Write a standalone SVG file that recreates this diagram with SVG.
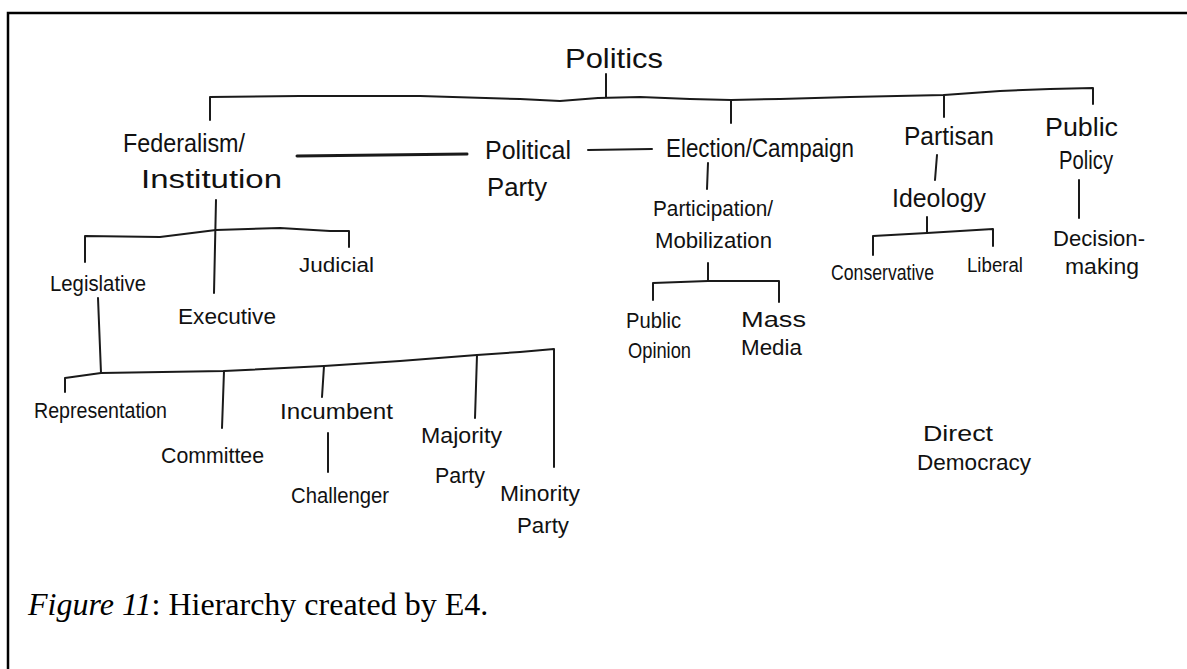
<svg xmlns="http://www.w3.org/2000/svg" width="1187" height="669" viewBox="0 0 1187 669">
  <style>
    .hand { font-family: "Liberation Sans", "DejaVu Sans", sans-serif; fill: #111; }
    .lg { font-size: 28px; }
    .md { font-size: 25px; }
    .sm { font-size: 22px; }
    .xs { font-size: 20px; }
    .wire { fill: none; stroke: #1a1a1a; stroke-width: 2; stroke-linecap: round; stroke-linejoin: round; }
    .frame { fill: none; stroke: #000; stroke-width: 2.5; }
    .caption { font-family: "Liberation Serif", "Times New Roman", serif; font-size: 32px; fill: #000; }
  </style>
  <rect width="1187" height="669" fill="#fff"/>

  <!-- page frame: top rule and left rule -->
  <path class="frame" d="M8,669 L8,13 L1187,13"/>

  <!-- connectors -->
  <g id="connectors">
    <!-- root bar -->
    <path class="wire" d="M606,74 L606,97"/>
    <path class="wire" d="M210,120 L210,97 L300,96 L420,96 L520,99 L560,101 L598,98 L640,97 L690,99 L731,100 L780,99 L850,97 L944,95 L1000,91 L1050,89 L1093,88 L1093,104"/>
    <path class="wire" d="M731,100 L731,123"/>
    <path class="wire" d="M944,95 L944,117"/>
    <!-- cross links -->
    <path class="wire" style="stroke-width:3" d="M297,156 L467,154"/>
    <path class="wire" d="M588,150 L652,149"/>
    <!-- institutions -->
    <path class="wire" d="M216,200 L214,293"/>
    <path class="wire" d="M85,262 L85,236 L160,237 L216,230 L280,228 L330,231 L349,231 L349,247"/>
    <!-- legislative -->
    <path class="wire" d="M98,298 L101,373"/>
    <path class="wire" d="M65,392 L65,378 L101,373 L224,371 L324,366 L400,361 L477,355 L520,352 L554,349 L554,467"/>
    <path class="wire" d="M224,371 L222,428"/>
    <path class="wire" d="M324,366 L322,397"/>
    <path class="wire" d="M477,355 L475,418"/>
    <path class="wire" d="M328,433 L328,472"/>
    <!-- election -->
    <path class="wire" d="M708,163 L707,189"/>
    <path class="wire" d="M708,263 L708,281"/>
    <path class="wire" d="M653,300 L653,283 L708,281 L779,281 L779,302"/>
    <!-- partisan -->
    <path class="wire" d="M937,155 L935,180"/>
    <path class="wire" d="M927,217 L927,233"/>
    <path class="wire" d="M873,255 L873,236 L927,233 L993,229 L993,246"/>
    <!-- public policy -->
    <path class="wire" d="M1079,180 L1079,218"/>
  </g>

  <!-- nodes -->
  <g id="politics"><text class="hand lg" x="565" y="68" textLength="98" lengthAdjust="spacingAndGlyphs">Politics</text></g>

  <g id="federalism">
    <text class="hand md" x="123" y="152" textLength="122" lengthAdjust="spacingAndGlyphs">Federalism/</text>
    <text class="hand md" x="141" y="188" textLength="141" lengthAdjust="spacingAndGlyphs">Institution</text>
  </g>
  <g id="political-party">
    <text class="hand md" x="485" y="159" textLength="86" lengthAdjust="spacingAndGlyphs">Political</text>
    <text class="hand md" x="487" y="196" textLength="60" lengthAdjust="spacingAndGlyphs">Party</text>
  </g>
  <g id="election"><text class="hand md" x="666" y="157" textLength="188" lengthAdjust="spacingAndGlyphs">Election/Campaign</text></g>
  <g id="participation">
    <text class="hand sm" x="653" y="216" textLength="120" lengthAdjust="spacingAndGlyphs">Participation/</text>
    <text class="hand sm" x="655" y="248" textLength="117" lengthAdjust="spacingAndGlyphs">Mobilization</text>
  </g>
  <g id="public-opinion">
    <text class="hand sm" x="626" y="328" textLength="55" lengthAdjust="spacingAndGlyphs">Public</text>
    <text class="hand sm" x="628" y="358" textLength="63" lengthAdjust="spacingAndGlyphs">Opinion</text>
  </g>
  <g id="mass-media">
    <text class="hand sm" x="741" y="327" textLength="65" lengthAdjust="spacingAndGlyphs">Mass</text>
    <text class="hand sm" x="741" y="355" textLength="61" lengthAdjust="spacingAndGlyphs">Media</text>
  </g>
  <g id="partisan"><text class="hand md" x="904" y="145" textLength="90" lengthAdjust="spacingAndGlyphs">Partisan</text></g>
  <g id="ideology"><text class="hand md" x="892" y="207" textLength="94" lengthAdjust="spacingAndGlyphs">Ideology</text></g>
  <g id="conservative"><text class="hand sm" x="831" y="280" textLength="103" lengthAdjust="spacingAndGlyphs">Conservative</text></g>
  <g id="liberal"><text class="hand xs" x="967" y="272" textLength="56" lengthAdjust="spacingAndGlyphs">Liberal</text></g>
  <g id="public-policy">
    <text class="hand md" x="1045" y="136" textLength="73" lengthAdjust="spacingAndGlyphs">Public</text>
    <text class="hand md" x="1059" y="169" textLength="54" lengthAdjust="spacingAndGlyphs">Policy</text>
  </g>
  <g id="decision-making">
    <text class="hand sm" x="1053" y="246" textLength="92" lengthAdjust="spacingAndGlyphs">Decision-</text>
    <text class="hand sm" x="1065" y="274" textLength="74" lengthAdjust="spacingAndGlyphs">making</text>
  </g>
  <g id="legislative"><text class="hand sm" x="50" y="291" textLength="96" lengthAdjust="spacingAndGlyphs">Legislative</text></g>
  <g id="executive"><text class="hand sm" x="178" y="324" textLength="98" lengthAdjust="spacingAndGlyphs">Executive</text></g>
  <g id="judicial"><text class="hand xs" x="299" y="272" textLength="75" lengthAdjust="spacingAndGlyphs">Judicial</text></g>
  <g id="representation"><text class="hand sm" x="34" y="418" textLength="133" lengthAdjust="spacingAndGlyphs">Representation</text></g>
  <g id="committee"><text class="hand sm" x="161" y="463" textLength="103" lengthAdjust="spacingAndGlyphs">Committee</text></g>
  <g id="incumbent"><text class="hand sm" x="280" y="419" textLength="113" lengthAdjust="spacingAndGlyphs">Incumbent</text></g>
  <g id="challenger"><text class="hand sm" x="291" y="503" textLength="98" lengthAdjust="spacingAndGlyphs">Challenger</text></g>
  <g id="majority-party">
    <text class="hand sm" x="421" y="443" textLength="81" lengthAdjust="spacingAndGlyphs">Majority</text>
    <text class="hand sm" x="435" y="483" textLength="50" lengthAdjust="spacingAndGlyphs">Party</text>
  </g>
  <g id="minority-party">
    <text class="hand sm" x="500" y="501" textLength="80" lengthAdjust="spacingAndGlyphs">Minority</text>
    <text class="hand sm" x="517" y="533" textLength="52" lengthAdjust="spacingAndGlyphs">Party</text>
  </g>
  <g id="direct-democracy">
    <text class="hand sm" x="923" y="441" textLength="70" lengthAdjust="spacingAndGlyphs">Direct</text>
    <text class="hand sm" x="917" y="470" textLength="114" lengthAdjust="spacingAndGlyphs">Democracy</text>
  </g>

  <!-- caption -->
  <text class="caption" x="28" y="615"><tspan font-style="italic">Figure 11</tspan>: Hierarchy created by E4.</text>
</svg>
